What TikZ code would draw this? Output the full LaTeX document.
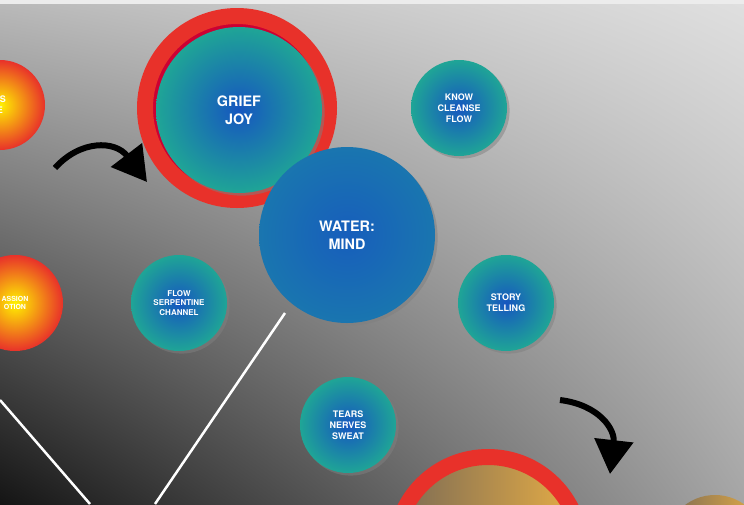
\documentclass[tikz,border=0pt]{standalone}
\usepackage{fontspec}
\setmainfont{TeX Gyre Heros}
\usetikzlibrary{arrows.meta,shadows,shadings}
\definecolor{teal1}{HTML}{1FA596}
\definecolor{blue1}{HTML}{1656C0}
\definecolor{ring}{HTML}{E8312A}
\definecolor{gold1}{HTML}{E8AE45}
\definecolor{gold2}{HTML}{7A6A55}
\tikzset{
  bubble/.style={circle, inner sep=0pt, minimum size=#1, inner color=blue1, outer color=teal1,
    text=white, align=center, font=\bfseries\small, drop shadow={opacity=0.5}},
  firebubble/.style={circle, inner sep=0pt, minimum size=#1, inner color=yellow!90!orange,
    outer color=ring, text=white, align=center, font=\bfseries\small},
  ringed/.style={circle, draw=ring, line width=16pt, inner sep=0pt, minimum size=#1},
  turn/.style={line width=6pt, -{Triangle[length=34pt,width=38pt]}},
}
\begin{document}
\begin{tikzpicture}[x=1pt, y=-1pt]
  \useasboundingbox (0,0) rectangle (744,504);
  % Background
  \shade[upper left=gray!55, upper right=gray!25, lower left=black!92, lower right=gray!70]
    (0,4) rectangle (744,504);
  \fill[gray!15] (0,0) rectangle (744,4);

  % Outer circles at the edges
  \node[firebubble=90pt] (stress) at (0,105) {SS\\E};
  \node[firebubble=96pt, font=\bfseries\scriptsize] (passion) at (15,303) {ASSION\\OTION};

  % Lines
  \coordinate (l1a) at (285,313); \coordinate (l1b) at (155,504);
  \coordinate (l2a) at (0,400);   \coordinate (l2b) at (90,504);
  \draw[white, line width=2.5pt] (l1a) -- (l1b);
  \draw[white, line width=2.5pt] (l2a) -- (l2b);

  % Grief joy
  \node[ringed=184pt, fill=purple!80!red] (griefring) at (237,108) {};
  \node[bubble=166pt, font=\Large\bfseries] (grief) at (239,110) {GRIEF\\JOY};

  % Water
  \node[bubble=176pt, font=\Large\bfseries, inner color=blue1!90!teal1, outer color=teal1!40!blue1]
    (water) at (347,235) {WATER:\\MIND};

  % Small bubbles
  \node[bubble=96pt] (know) at (459,108) {KNOW\\CLEANSE\\FLOW};
  \node[bubble=96pt] (story) at (506,303) {STORY\\TELLING};
  \node[bubble=96pt, font=\bfseries\footnotesize] (flow) at (179,303) {FLOW\\SERPENTINE\\CHANNEL};
  \node[bubble=96pt] (tears) at (348,425) {TEARS\\NERVES\\SWEAT};

  % Bottom circles
  \node[ringed=186pt, left color=gold2, right color=gold1] (earth) at (488,550) {};
  \node[circle, minimum size=100pt, left color=gold2, right color=gold1] (gold) at (715,545) {};

  % Arrows
  \coordinate (a1s) at (55,168); \coordinate (a1e) at (147,182);
  \draw[turn] (a1s) .. controls (80,140) and (115,140) .. (a1e);
  \coordinate (a2s) at (560,400); \coordinate (a2e) at (610,474);
  \draw[turn] (a2s) .. controls (600,405) and (615,430) .. (a2e);
\end{tikzpicture}
\end{document}
